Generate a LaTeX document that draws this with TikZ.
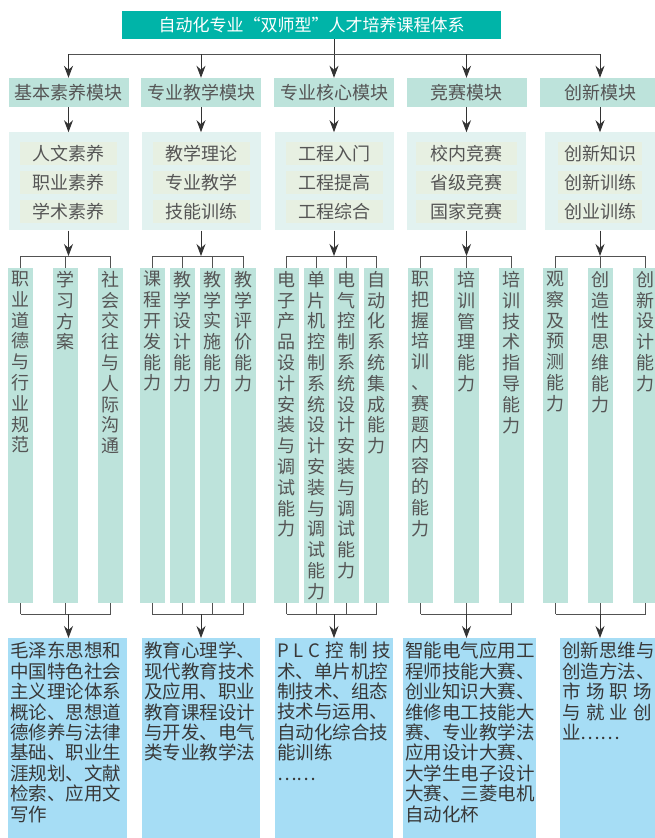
\documentclass[tikz,border=0pt]{standalone}
\usepackage{fontspec}
\setmainfont{Noto Sans CJK SC}
\usetikzlibrary{arrows.meta,positioning}
\definecolor{titleteal}{HTML}{00B4A8}
\definecolor{modfill}{HTML}{BDE3DB}
\definecolor{subfill}{HTML}{E2F2F0}
\definecolor{itemfill}{HTML}{E7F0E2}
\definecolor{btmfill}{HTML}{A6DDF5}
\definecolor{txtgray}{HTML}{555555}
\definecolor{linegray}{HTML}{333333}
% stack characters one per line
\newcommand\vstk[1]{\expandafter\vstkaux#1\relax}
\def\vstkaux#1{\ifx#1\relax \expandafter\vstkstop\else\expandafter\vstkgo\fi{#1}}
\def\vstkstop#1{}
\def\vstkgo#1{#1\\\vstkaux}
\begin{document}
\begin{tikzpicture}[x=1pt,y=-1pt,
	arr/.style={-{Stealth[length=12pt,width=9pt,inset=4pt]},linegray,line width=0.9pt},
	ln/.style={linegray!85,line width=0.9pt},
	titlebox/.style={fill=titleteal,text=white,minimum width=379pt,minimum height=28pt,inner sep=0pt,font=\fontsize{17}{20}\selectfont},
	modbox/.style={fill=modfill,text=txtgray,minimum width=120pt,minimum height=29pt,inner sep=0pt,font=\fontsize{18}{21}\selectfont},
	subbox/.style={fill=subfill,minimum height=98pt,inner sep=0pt},
	itembox/.style={fill=itemfill,text=txtgray,minimum height=23pt,inner sep=0pt,font=\fontsize{18}{21}\selectfont},
	colbox/.style={fill=modfill,minimum width=25pt,minimum height=335pt,inner sep=0pt,anchor=north},
	coltext/.style={text=txtgray,align=center,inner sep=0pt,font=\fontsize{18}{20.8}\selectfont},
	btmbox/.style={fill=btmfill,minimum height=205pt,inner sep=0pt,anchor=north west},
	btmtext/.style={text=black!78,align=left,inner sep=0pt,font=\fontsize{18.5}{20.4}\selectfont}]
	\useasboundingbox[fill=white] (0,0) rectangle (654,838);
	\coordinate (bus) at (0,54);
	\coordinate (tb) at (0,256);
	\coordinate (bb) at (0,614);
	% title and modules
	\node[titlebox] (title) at (311.5,25) {自动化专业“双师型”人才培养课程体系};
	\foreach \i/\x/\txt in {1/68.5/基本素养模块,2/201/专业教学模块,3/334/专业核心模块,4/466.5/竞赛模块,5/600/创新模块}
		\node[modbox] (m\i) at (\x,92.5) {\txt};
	\draw[arr] (m3.north |- title.south) -- (m3.north);
	\draw[ln] (m1.north |- bus) -- (m5.north |- bus);
	\foreach \i in {1,2,4,5} \draw[arr] (m\i.north |- bus) -- (m\i.north);
	% sub boxes
	\foreach \i/\w/\v/\a/\b/\c in {1/120/97/人文素养/职业素养/学术素养,2/119/97/教学理论/专业教学/技能训练,3/119/97/工程入门/工程提高/工程综合,4/119/101/校内竞赛/省级竞赛/国家竞赛,5/111/84/创新知识/创新训练/创业训练}{
		\node[subbox,minimum width=\w pt,below=25pt of m\i] (s\i) {};
		\node[itembox,minimum width=\v pt,below=10pt of s\i.north] (s\i1) {\a};
		\node[itembox,minimum width=\v pt,below=5.5pt of s\i1] (s\i2) {\b};
		\node[itembox,minimum width=\v pt,below=5.5pt of s\i2] (s\i3) {\c};
		\draw[arr] (m\i) -- (s\i);
	}
	% ability columns
	\foreach \n/\x/\txt in {a/20.5/职业道德与行业规范,b/65.5/学习方案,c/110.5/社会交往与人际沟通,
		d/152/课程开发能力,e/182.5/教学设计能力,f/212.5/教学实施能力,g/243.5/教学评价能力,
		h/286.5/电子产品设计安装与调试能力,i/316.5/单片机控制系统设计安装与调试能力,j/346.5/电气控制系统设计安装与调试能力,k/376.5/自动化系统集成能力,
		l/420.5/职把握培训、赛题内容的能力,m/466.5/培训管理能力,n/511.5/培训技术指导能力,
		o/555.5/观察及预测能力,p/600.5/创造性思维能力,q/645.5/创新设计能力}{
		\node[colbox] (col\n) at (\x,268) {};
		\node[coltext,below=3pt of col\n.north] {\vstk{\txt}};
		\draw[ln] (col\n.north) -- (col\n.north |- tb);
		\draw[ln] (col\n.south) -- (col\n.south |- bb);
	}
	\foreach \f/\l in {a/c,d/g,h/k,l/n,o/q}{
		\draw[ln] (col\f.north |- tb) -- (col\l.north |- tb);
		\draw[ln] (col\f.south |- bb) -- (col\l.south |- bb);
	}
	% course boxes
	\foreach \i/\x/\w in {1/8/119,2/142/118,3/275/118,4/403/133,5/560/100}
		\node[btmbox,minimum width=\w pt] (b\i) at (\x,638) {};
	\node[btmtext,below right=4pt and 2pt of b1.north west] {毛泽东思想和\\中国特色社会\\主义理论体系\\概论、思想道\\德修养与法律\\基础、职业生\\涯规划、文献\\检索、应用文\\写作};
	\node[btmtext,below right=4pt and 2pt of b2.north west] {教育心理学、\\现代教育技术\\及应用、职业\\教育课程设计\\与开发、电气\\类专业教学法};
	\node[btmtext,below right=4pt and 2pt of b3.north west] {\hbox to 114pt{P\hfill L\hfill C\hfill 控\hfill 制\hfill 技}\\术、单片机控\\制技术、组态\\技术与运用、\\自动化综合技\\能训练\\……};
	\node[btmtext,below right=4pt and 2pt of b4.north west] {智能电气应用工\\程师技能大赛、\\创业知识大赛、\\维修电工技能大\\赛、专业教学法\\应用设计大赛、\\大学生电子设计\\大赛、三菱电机\\自动化杯};
	\node[btmtext,below right=4pt and 2pt of b5.north west] {创新思维与\\创造方法、\\\hbox to 90pt{市\hfill 场\hfill 职\hfill 场}\\\hbox to 90pt{与\hfill 就\hfill 业\hfill 创}\\业……};
	\foreach \i in {1,...,5}{
		\draw[arr] (s\i) -- (s\i |- tb);
		\draw[arr] (s\i |- bb) -- (s\i |- b\i.north);
	}
\end{tikzpicture}
\end{document}
